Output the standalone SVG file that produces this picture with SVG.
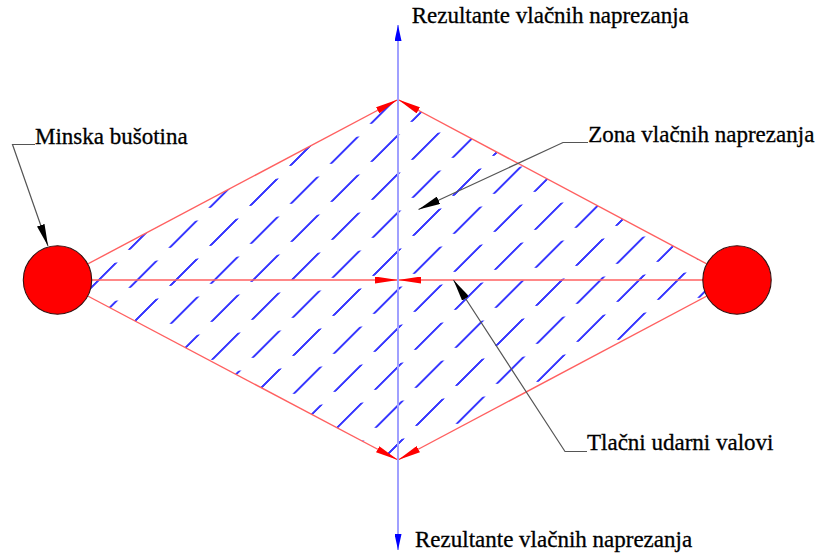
<svg xmlns="http://www.w3.org/2000/svg" width="821" height="554" viewBox="0 0 821 554">
<style>
  .lbl { font-family: "Liberation Serif", "Times New Roman", serif; font-size: 23px; fill: #000; stroke: #000; stroke-width: 0.3; }
  .red { stroke: #ff6060; stroke-width: 1.4; fill: none; }
  .leader { stroke: #555; stroke-width: 1.2; fill: none; }
  .hole { fill: #ff0000; stroke: #331111; stroke-width: 1.1; }
</style>
<defs>
  <pattern id="hatch" patternUnits="userSpaceOnUse" x="0" y="0" width="56.57" height="27.3" patternTransform="matrix(0.7071 -0.7071 1.4872 -0.0733 229.7 207)">
    <line x1="1" y1="13.65" x2="38" y2="13.65" stroke="#3838ff" stroke-width="2" stroke-linecap="round"/>
  </pattern>
  <marker id="redhead" viewBox="0 0 23 7" refX="23" refY="3.5" markerWidth="23" markerHeight="7" markerUnits="userSpaceOnUse" orient="auto">
    <path d="M0,0 L23,3.5 L0,7 Z" fill="#ff0000"/>
  </marker>
  <marker id="bluehead" viewBox="0 0 16 7" refX="16" refY="3.5" markerWidth="16" markerHeight="7" markerUnits="userSpaceOnUse" orient="auto">
    <path d="M0,0 L16,3.5 L0,7 Z" fill="#0000ff"/>
  </marker>
  <marker id="blackhead" viewBox="0 0 22 8" refX="22" refY="4" markerWidth="22" markerHeight="8" markerUnits="userSpaceOnUse" orient="auto">
    <path d="M0,0 L22,4 L0,8 Z" fill="#000"/>
  </marker>
</defs>

<g id="tension-zone">
  <polygon points="57.5,280 398,99.5 737,280 398,460" fill="url(#hatch)" stroke="none"/>
</g>

<g id="compression-waves">
  <line class="red" x1="57.5" y1="280" x2="398" y2="99.5" marker-end="url(#redhead)"/>
  <line class="red" x1="737" y1="280" x2="398" y2="99.5" marker-end="url(#redhead)"/>
  <line class="red" x1="57.5" y1="280" x2="398" y2="460" marker-end="url(#redhead)"/>
  <line class="red" x1="737" y1="280" x2="398" y2="460" marker-end="url(#redhead)"/>
  <line class="red" x1="57.5" y1="280" x2="398" y2="280" marker-end="url(#redhead)"/>
  <line class="red" x1="737" y1="280" x2="398" y2="280" marker-end="url(#redhead)"/>
</g>

<g id="axis">
  <line x1="398" y1="280" x2="398" y2="25" stroke="#a0a0ff" stroke-width="2" marker-end="url(#bluehead)"/>
  <line x1="398" y1="280" x2="398" y2="550" stroke="#a0a0ff" stroke-width="2" marker-end="url(#bluehead)"/>
</g>

<g id="borehole-left">
  <circle class="hole" cx="57.5" cy="280" r="34.2"/>
</g>
<g id="borehole-right">
  <circle class="hole" cx="737" cy="280" r="34.2"/>
</g>

<g id="connectors">
  <path class="leader" d="M35,144.5 L12.5,144.5 L48,246" marker-end="url(#blackhead)"/>
  <path class="leader" d="M588,142.5 L563,142.5 L418.5,209.5" marker-end="url(#blackhead)"/>
  <path class="leader" d="M587,451.5 L565,451.5 L453.5,280" marker-end="url(#blackhead)"/>
</g>

<g id="label-top">
  <text class="lbl" x="411.7" y="23.3">Rezultante vlačnih naprezanja</text>
</g>
<g id="label-bottom">
  <text class="lbl" x="415" y="546.5">Rezultante vlačnih naprezanja</text>
</g>
<g id="label-minska">
  <text class="lbl" x="35" y="144">Minska bušotina</text>
</g>
<g id="label-zona">
  <text class="lbl" x="588.3" y="141.7">Zona vlačnih naprezanja</text>
</g>
<g id="label-tlacni">
  <text class="lbl" x="587" y="450">Tlačni udarni valovi</text>
</g>
</svg>
